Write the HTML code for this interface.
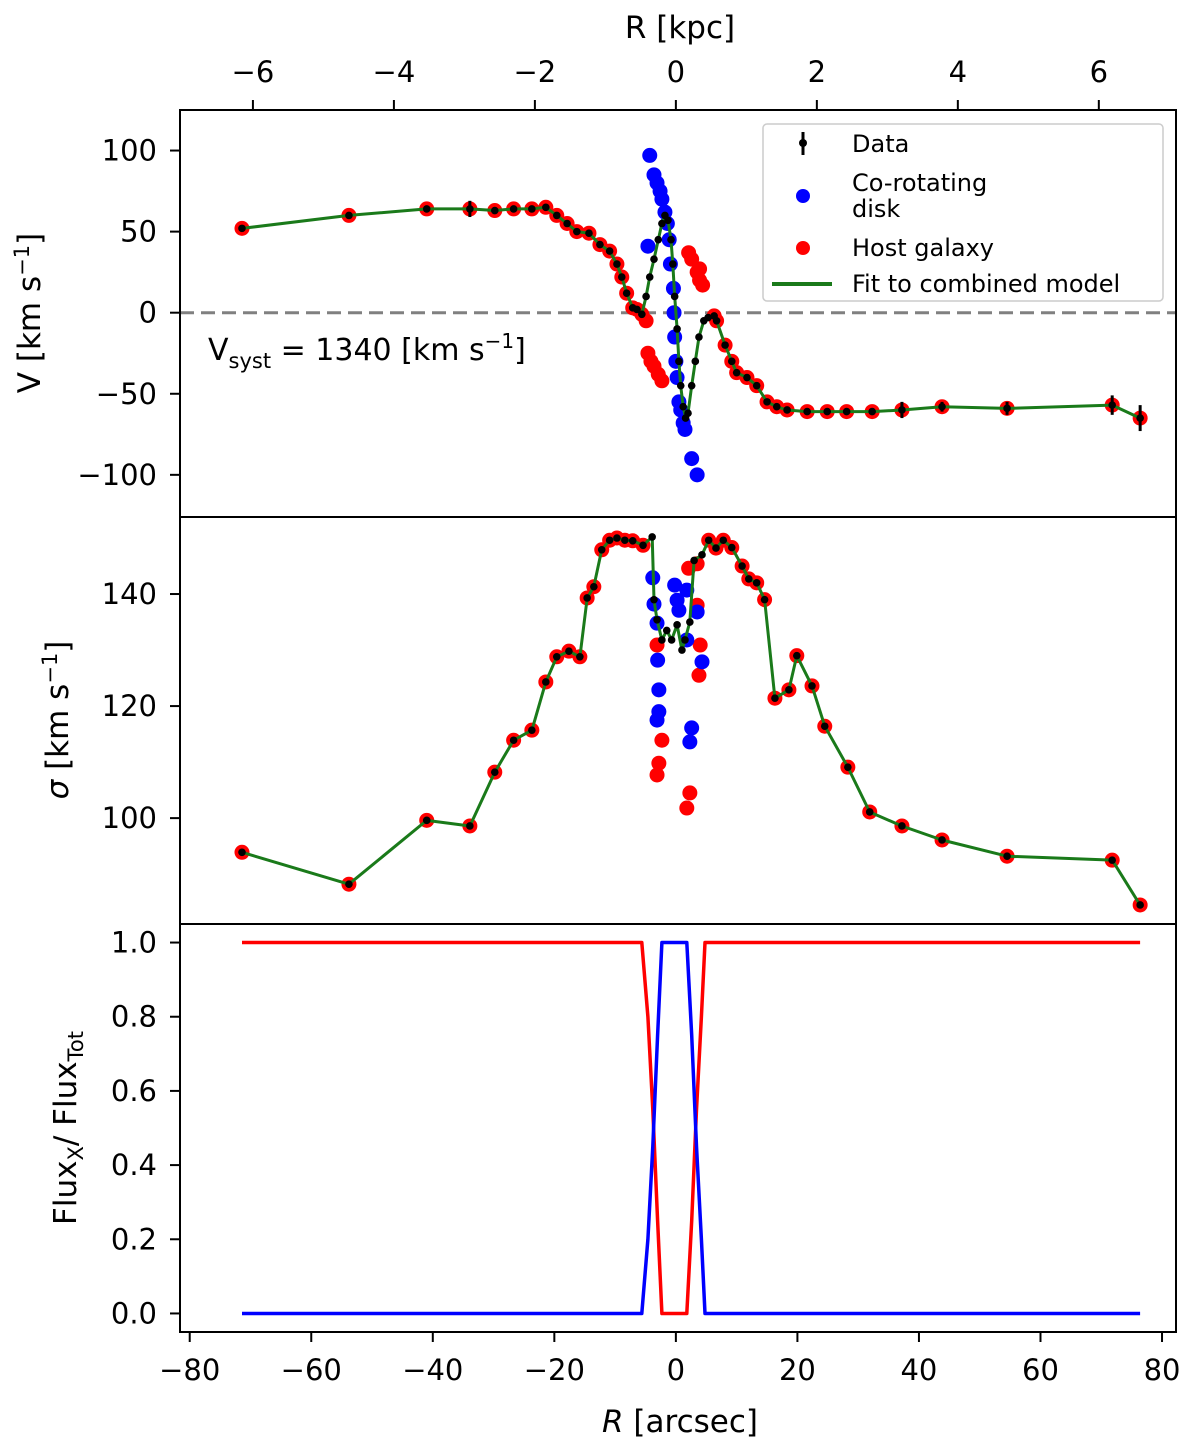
<!DOCTYPE html>
<html><head><meta charset="utf-8"><style>
html,body{margin:0;padding:0;background:#fff;}
svg{display:block;font-family:"DejaVu Sans","Liberation Sans",sans-serif;}
</style></head><body>
<svg id="fig" width="1200" height="1455" viewBox="0 0 1200 1455" xmlns="http://www.w3.org/2000/svg"></svg>
<script>
// ---- data (R in arcsec) ----
const dataR = [-71.4,-53.8,-41.0,-33.9,-29.8,-26.7,-23.7,-21.4,-19.6,-17.9,-16.3,-14.3,-12.5,-10.9,-9.7,-8.9,-8.1,-7.1,-6.4,-5.6,-4.9,-4.3,-3.6,-2.9,-2.3,-1.8,-1.3,-0.8,-0.5,-0.2,0.2,0.5,0.8,1.2,1.6,2.0,2.6,3.2,3.8,4.6,5.3,6.3,6.7,8.1,9.2,10.0,11.7,13.3,15.0,16.6,18.3,21.6,24.9,28.1,32.3,37.2,43.8,54.5,71.8,76.4];
const dataV = [52,60,64,64,63,64,64,65,60,55,50,49,42,38,30,22,12,3,2,-1,10,22,33,45,55,60,57,45,30,10,-10,-30,-45,-58,-65,-62,-45,-30,-15,-5,-3,-2,-5,-20,-30,-37,-40,-45,-55,-58,-60,-61,-61,-61,-61,-60,-58,-59,-57,-65];
const dataVerr = [2,2,2,5,2,2,2,2,2,2,2,2,2,2,2,2,2,2,2,2,2,2,2,2,2,2,2,2,2,2,2,2,2,2,2,2,2,2,2,2,2,2,2,2,2,2,2,2,2,2,2,2,2,2,2,5,3,4,6,8];
const outerHostV = [0,1,2,3,4,5,6,7,8,9,10,11,12,13,14,15,16,17,18,19,41,42,43,44,45,46,47,48,49,50,51,52,53,54,55,56,57,58,59];
const diskVR = [-4.3,-3.6,-3.1,-2.6,-2.3,-1.8,-1.4,-1.1,-0.9,-0.4,-0.3,-0.2,0,0.2,0.5,0.8,1.2,1.5,2.6,3.5,-4.6];
const diskV = [97,85,80,75,70,62,55,45,30,15,0,-15,-30,-40,-55,-60,-68,-72,-90,-100,41];
const hostVR = [-4.9,-4.6,-4.1,-3.6,-2.9,-2.3,2.1,2.6,3.5,3.9,4.4,3.9];
const hostV = [-5,-25,-30,-33,-38,-42,37,33,25,20,17,27];

const sigR = [-71.4,-53.8,-41.0,-33.9,-29.8,-26.7,-23.7,-21.4,-19.6,-17.6,-15.8,-14.6,-13.5,-12.2,-10.9,-9.7,-8.4,-7.1,-5.4,-3.9,-3.6,-3.1,-2.3,-1.5,-0.7,0.2,1.0,1.5,2.3,3.0,4.3,5.4,6.6,7.8,9.2,10.9,12.0,13.3,14.6,16.3,18.6,19.9,22.4,24.5,28.3,31.9,37.2,43.8,54.5,71.8,76.4];
const sigV = [93.9,88.2,99.6,98.6,108.2,113.9,115.7,124.3,128.8,129.8,128.8,139.3,141.3,147.9,149.6,150,149.6,149.5,148.7,150.2,139,135.4,131.8,133.5,131.8,134.5,130,131.8,135,146,147,149.6,148.2,149.6,148.3,145,142.7,142,139,121.4,122.9,129,123.6,116.4,109.1,101.1,98.6,96.1,93.2,92.5,84.5];
const diskSR = [-3.8,-3.6,-3.1,-3.0,-2.8,-2.8,-3.1,1.8,3.5,4.3,2.3,2.6,-0.2,0.2,0.5,1.8];
const diskS = [142.9,138.2,134.8,128.2,122.9,119,117.5,131.8,136.8,127.9,113.6,116.1,141.6,138.9,137.1,140.7];
const hostSR = [-3.1,-2.3,-2.8,-3.1,1.8,2.3,3.5,4.0,3.8,2.1,3.5];
const hostS = [130.9,113.9,109.8,107.7,101.8,104.5,138.0,130.9,125.5,144.6,145.4];

const fluxR = [-71.4,-6.0,-5.6,-4.6,-3.8,-3.0,-2.3,1.8,2.6,3.4,4.2,4.8,76.4];
const hostFlux = [1,1,1,0.8,0.55,0.25,0,0,0.25,0.55,0.8,1,1];
const diskFlux = [0,0,0,0.2,0.45,0.75,1,1,0.75,0.45,0.2,0,0];

const xTicks = [-80,-60,-40,-20,0,20,40,60,80];
const kpcTicks = [-6,-4,-2,0,2,4,6];
const vTicks = [-100,-50,0,50,100];
const sTicks = [100,120,140];
const fTicks = [0,0.2,0.4,0.6,0.8,1.0];
const kpcPerArcsec = 1/11.6;

// ---- geometry ----
const L=180,R=1176;
const P=[{t:110,b:517,lo:-126,hi:125},{t:517,b:924,lo:81.1,hi:153.75},{t:924,b:1332,lo:-0.05,hi:1.05}];
const xmin=-81.6,xmax=82.3;
const X=v=>L+(v-xmin)/(xmax-xmin)*(R-L);
const Y=(p,v)=>P[p].b-(v-P[p].lo)/(P[p].hi-P[p].lo)*(P[p].b-P[p].t);
const svg=document.getElementById('fig');
const NS='http://www.w3.org/2000/svg';
function mk(tag,attrs,parent){const e=document.createElementNS(NS,tag);for(const k in attrs)e.setAttribute(k,attrs[k]);(parent||svg).appendChild(e);return e;}
function fmt(v,d){const s=(d?Math.abs(v).toFixed(d):String(Math.abs(v)));return v<0?'\u2212'+s:s;}
function txt(x,y,s,anchor,size,parent){const t=mk('text',{x:x,y:y,'text-anchor':anchor,'font-size':size,fill:'#000'},parent);t.textContent=s;return t;}
function poly(xs,ys,p,color,w,name){const pts=xs.map((x,i)=>X(x).toFixed(1)+','+Y(p,ys[i]).toFixed(1)).join(' ');const e=mk('polyline',{points:pts,fill:'none',stroke:color,'stroke-width':w,'stroke-linejoin':'round'});return e;}
function dots(xs,ys,p,color,r,name){const g=mk('g',{});xs.forEach((x,i)=>{const c=mk('circle',{cx:X(x),cy:Y(p,ys[i]),r:r,fill:color},g);});return g;}

// top panel
const zero=mk('line',{x1:L,x2:R,y1:Y(0,0),y2:Y(0,0),stroke:'#808080','stroke-width':3,'stroke-dasharray':'14,7'});


dots(outerHostV.map(i=>dataR[i]),outerHostV.map(i=>dataV[i]),0,'#f00',7.5,'host-velocity-outer');
dots(hostVR,hostV,0,'#f00',7.5,'host-velocity');
dots(diskVR,diskV,0,'#00f',7.5,'disk-velocity');
poly(dataR,dataV,0,'#1a7a1a',3,'fit-velocity-line');
const eg=mk('g',{});
dataR.forEach((x,i)=>{mk('line',{x1:X(x),x2:X(x),y1:Y(0,dataV[i]-dataVerr[i]),y2:Y(0,dataV[i]+dataVerr[i]),stroke:'#000','stroke-width':3},eg);});
dots(dataR,dataV,0,'#000',3.8,'data-velocity');

// middle panel
dots(sigR.filter((x,i)=>Math.abs(x)>5),sigV.filter((v,i)=>Math.abs(sigR[i])>5),1,'#f00',7.5,'host-sigma-outer');
dots(hostSR,hostS,1,'#f00',7.5,'host-sigma');
dots(diskSR,diskS,1,'#00f',7.5,'disk-sigma');
poly(sigR,sigV,1,'#1a7a1a',3,'fit-sigma-line');
dots(sigR,sigV,1,'#000',3.8,'data-sigma');

// bottom panel
poly(fluxR,hostFlux,2,'#f00',3.5,'host-flux-fraction');
poly(fluxR,diskFlux,2,'#00f',3.5,'disk-flux-fraction');

// frames & ticks
P.forEach((p,i)=>{const r=mk('rect',{x:L,y:p.t,width:R-L,height:p.b-p.t,fill:'none',stroke:'#000','stroke-width':2});});
const yt=[vTicks,sTicks,fTicks];
yt.forEach((ticks,p)=>{ticks.forEach(v=>{const y=Y(p,v);mk('line',{x1:L-10,x2:L,y1:y,y2:y,stroke:'#000','stroke-width':2});const t=txt(157,y+10,fmt(v,p===2?1:0),'end',29);});});
xTicks.forEach(v=>{const x=X(v);mk('line',{x1:x,x2:x,y1:1332,y2:1342,stroke:'#000','stroke-width':2});const t=txt(x,1380,fmt(v),'middle',29);});
kpcTicks.forEach(v=>{const x=X(v/kpcPerArcsec);mk('line',{x1:x,x2:x,y1:100,y2:110,stroke:'#000','stroke-width':2});const t=txt(x,82,fmt(v),'middle',29);});
</script>
<svg style="position:absolute;left:0;top:0" width="1200" height="1455" xmlns="http://www.w3.org/2000/svg" font-family="DejaVu Sans, Liberation Sans, sans-serif">
<text x="680" y="38" text-anchor="middle" font-size="31">R [kpc]</text>
<text x="680" y="1432" text-anchor="middle" font-size="31"><tspan font-style="italic">R</tspan> [arcsec]</text>
<text transform="translate(40,313) rotate(-90)" text-anchor="middle" font-size="31">V [km s<tspan dy="-11" font-size="21">−1</tspan><tspan dy="11">]</tspan></text>
<text transform="translate(68,720) rotate(-90)" text-anchor="middle" font-size="31"><tspan font-style="italic">σ</tspan> [km s<tspan dy="-11" font-size="21">−1</tspan><tspan dy="11">]</tspan></text>
<text transform="translate(76,1128) rotate(-90)" text-anchor="middle" font-size="31">Flux<tspan dy="7" font-size="21">X</tspan><tspan dy="-7">/ Flux</tspan><tspan dy="7" font-size="21">Tot</tspan></text>
<text x="208" y="360" font-size="30">V<tspan dy="8" font-size="21">syst</tspan><tspan dy="-8"> = 1340 [km s</tspan><tspan dy="-12" font-size="20">−1</tspan><tspan dy="12">]</tspan></text>
<g>
<rect x="763" y="124" width="400" height="177" rx="4" fill="#fff" fill-opacity="0.85" stroke="#ccc" stroke-width="1.5"/>
<g><line x1="803" x2="803" y1="132" y2="155" stroke="#000" stroke-width="3"/><circle cx="803" cy="143" r="4" fill="#000"/><text x="852" y="152" font-size="24">Data</text></g>
<g><circle cx="803" cy="196" r="7" fill="#00f"/><text x="852" y="191" font-size="24">Co-rotating</text><text x="852" y="217" font-size="24"> disk</text></g>
<g><circle cx="803" cy="248" r="7" fill="#f00"/><text x="852" y="256" font-size="24">Host galaxy</text></g>
<g><line x1="772" x2="832" y1="284" y2="284" stroke="#1a7a1a" stroke-width="4"/><text x="852" y="292" font-size="24">Fit to combined model</text></g>
</g>
</svg>
</body></html>
